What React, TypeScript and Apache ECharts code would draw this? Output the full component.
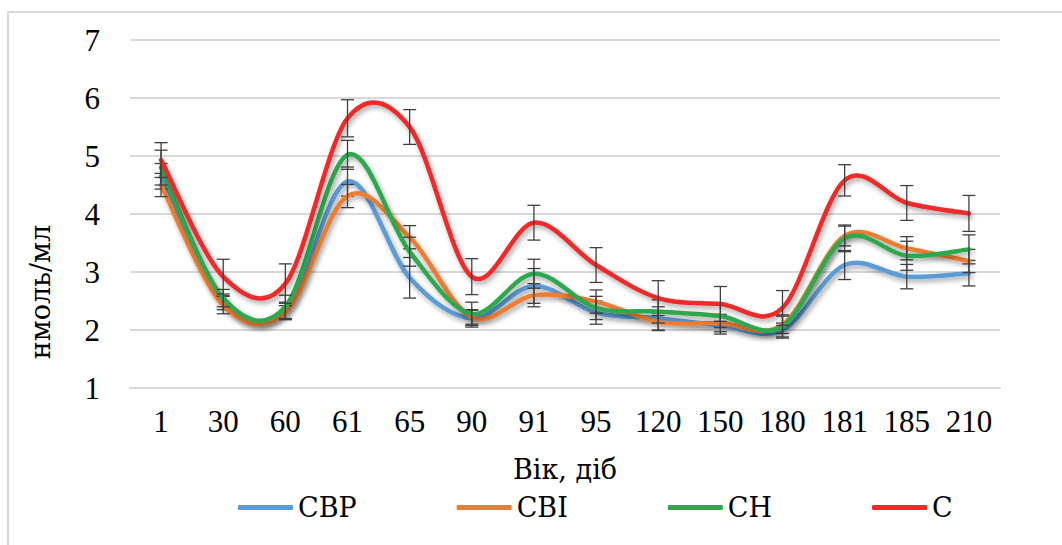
import React, { useEffect, useRef } from "react";
import * as echarts from "echarts";

const categories = ["1", "30", "60", "61", "65", "90", "91", "95", "120", "150", "180", "181", "185", "210"];
const seriesNames = ["СВР", "СВІ", "СН", "С"];
const cbpValues = [4.65, 2.47, 2.33, 4.56, 2.9, 2.2, 2.76, 2.3, 2.2, 2.08, 2.0, 3.12, 2.92, 2.98];
const cbiValues = [4.5, 2.43, 2.3, 4.31, 3.6, 2.22, 2.6, 2.49, 2.14, 2.12, 2.09, 3.62, 3.41, 3.19];
const chValues = [4.8, 2.55, 2.4, 5.02, 3.35, 2.28, 2.97, 2.38, 2.32, 2.24, 2.06, 3.58, 3.28, 3.39];
const cValues = [4.93, 2.92, 2.8, 5.65, 5.5, 2.92, 3.85, 3.12, 2.55, 2.45, 2.38, 4.58, 4.19, 4.01];
const cbpErrors = [0.22, 0.12, 0.15, 0.25, 0.35, 0.15, 0.3, 0.2, 0.2, 0.15, 0.12, 0.25, 0.21, 0.22];
const cbiErrors = [0.2, 0.15, 0.12, 0.2, 0.2, 0.12, 0.2, 0.2, 0.15, 0.15, 0.15, 0.17, 0.2, 0.2];
const chErrors = [0.3, 0.15, 0.2, 0.25, 0.25, 0.2, 0.25, 0.2, 0.2, 0.2, 0.2, 0.23, 0.25, 0.25];
const cErrors = [0.3, 0.3, 0.34, 0.32, 0.3, 0.31, 0.3, 0.3, 0.3, 0.3, 0.3, 0.27, 0.3, 0.31];
const yTicks = [1, 2, 3, 4, 5, 6, 7];
const colors = ["#5B9BD5", "#ED7D31", "#2FA84F", "#EE2A2A"];
const xAxisTitle = "Вік, діб";
const yAxisTitle = "нмоль/мл";

const FONT = "Liberation Serif";
const CYR_FONT = "DejaVu Serif";

let registered = false;
function registerCurve() {
  if (registered) return;
  registered = true;
  const Curve = (echarts.graphic as any).extendShape({
    type: "excelCurve",
    shape: { pts: [] as number[][] },
    style: { fill: null, stroke: "#000" },
    buildPath(ctx: any, shape: any) {
      const p = shape.pts as number[][];
      if (!p || p.length < 2) return;
      ctx.moveTo(p[0][0], p[0][1]);
      for (let i = 0; i < p.length - 1; i++) {
        const p0 = p[Math.max(0, i - 1)];
        const p1 = p[i];
        const p2 = p[i + 1];
        const p3 = p[Math.min(p.length - 1, i + 2)];
        const c1x = p1[0] + (p2[0] - p0[0]) / 6;
        const c1y = p1[1] + (p2[1] - p0[1]) / 6;
        const c2x = p2[0] - (p3[0] - p1[0]) / 6;
        const c2y = p2[1] - (p3[1] - p1[1]) / 6;
        ctx.bezierCurveTo(c1x, c1y, c2x, c2y, p2[0], p2[1]);
      }
    },
  });
  echarts.graphic.registerShape("excelCurve", Curve);
}

export default function App() {
  const ref = useRef<HTMLDivElement>(null);

  useEffect(() => {
    if (!ref.current) return;
    registerCurve();
    const chart = echarts.init(ref.current, null, { renderer: "svg" });
    const allValues = [cbpValues, cbiValues, chValues, cValues];
    const allErrors = [cbpErrors, cbiErrors, chErrors, cErrors];

    const lineSeries: any[] = seriesNames.map((name, i) => ({
      name,
      type: "custom",
      z: 2 + i * 2,
      data: allValues[i].map((v, k) => [k, v]),
      encode: { x: 0, y: 1 },
      itemStyle: { color: colors[i] },
      renderItem: (params: any, api: any) => {
        if (params.dataIndex !== 0) return null;
        const pts = allValues[i].map((v, k) => api.coord([k, v]));
        return {
          type: "excelCurve",
          shape: { pts },
          style: {
            fill: null,
            stroke: colors[i],
            lineWidth: 4.5,
            lineCap: "round",
            lineJoin: "round",
            shadowBlur: 5,
            shadowColor: "rgba(0,0,0,0.35)",
            shadowOffsetX: 2,
            shadowOffsetY: 3,
          },
        };
      },
    }));

    const errSeries: any[] = seriesNames.map((name, i) => ({
      name: "err-" + name,
      type: "custom",
      z: 3 + i * 2,
      data: allValues[i].map((v, k) => [k, v - allErrors[i][k], v + allErrors[i][k]]),
      encode: { x: 0, y: [1, 2] },
      renderItem: (params: any, api: any) => {
        const x = api.value(0);
        const lo = api.coord([x, api.value(1)]);
        const hi = api.coord([x, api.value(2)]);
        const w = 6.5;
        const st = { stroke: "#404040", lineWidth: 1.3 };
        return {
          type: "group",
          children: [
            { type: "line", shape: { x1: lo[0], y1: lo[1], x2: hi[0], y2: hi[1] }, style: st },
            { type: "line", shape: { x1: lo[0] - w, y1: lo[1], x2: lo[0] + w, y2: lo[1] }, style: st },
            { type: "line", shape: { x1: hi[0] - w, y1: hi[1], x2: hi[0] + w, y2: hi[1] }, style: st },
          ],
        };
      },
    }));

    chart.setOption({
      animation: false,
      backgroundColor: "#ffffff",
      textStyle: { fontFamily: CYR_FONT },
      grid: { left: 130, right: 62, top: 40, bottom: 157, containLabel: false },
      legend: {
        data: seriesNames,
        left: 233,
        top: 489,
        icon: "roundRect",
        itemWidth: 55,
        itemHeight: 5,
        itemGap: 100,
        textStyle: { fontFamily: CYR_FONT, fontSize: 27, color: "#000" },
      },
      xAxis: {
        type: "category",
        data: categories,
        boundaryGap: true,
        name: xAxisTitle,
        nameLocation: "middle",
        nameGap: 68,
        nameTextStyle: { fontFamily: CYR_FONT, fontSize: 27, color: "#000" },
        axisLine: { show: true, lineStyle: { color: "#d9d9d9", width: 2 } },
        axisTick: { show: false },
        axisLabel: { fontFamily: FONT, fontSize: 31, color: "#000", margin: 18, interval: 0 },
      },
      yAxis: {
        type: "value",
        min: yTicks[0],
        max: yTicks[yTicks.length - 1],
        interval: 1,
        axisLine: { show: false },
        axisTick: { show: false },
        axisLabel: { fontFamily: FONT, fontSize: 31, color: "#000", margin: 30 },
        splitLine: { lineStyle: { color: "#d9d9d9", width: 2 } },
      },
      graphic: [
        {
          type: "rect",
          shape: { x: 8, y: 12, width: 1100, height: 600 },
          style: { fill: "none", stroke: "#d9d9d9", lineWidth: 2 },
          silent: true,
        },
        {
          type: "text",
          x: 40,
          y: 292,
          rotation: Math.PI / 2,
          style: {
            text: yAxisTitle,
            fontFamily: CYR_FONT,
            fontSize: 27,
            fill: "#000",
            align: "center",
            verticalAlign: "middle",
          },
        },
      ],
      series: [...lineSeries, ...errSeries],
    });
    return () => chart.dispose();
  }, []);

  return (
    <div
      ref={ref}
      style={{ position: "absolute", left: 0, top: 0, width: 1062, height: 545, background: "#fff" }}
    />
  );
}
